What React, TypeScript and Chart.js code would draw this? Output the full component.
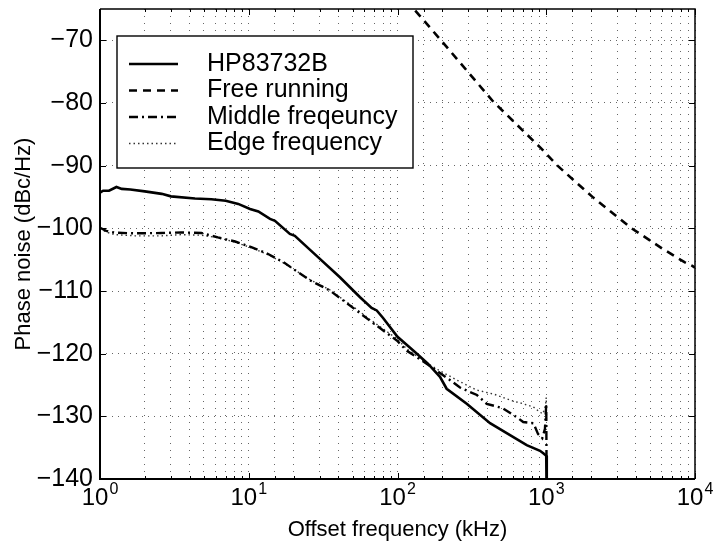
import { useEffect, useRef } from 'react';
import { Chart, registerables } from 'chart.js';

Chart.register(...registerables);

const FONT = "'Liberation Sans', Arial, Helvetica, sans-serif";

// ---- data ----
const seriesNames = ['HP83732B', 'Free running', 'Middle freqeuncy', 'Edge frequency'];

const hpFreq = [1, 1.05, 1.15, 1.29, 1.4, 1.6, 2.0, 2.6, 3.0, 4.35, 5.6, 7, 8.5, 10.2, 11.6, 13.9, 15, 18.9, 20.4, 28.6, 41, 56, 67, 72.5, 80, 100, 121, 135, 160, 193, 214, 292, 419, 571, 739, 908, 955, 1000, 1008];
const hpLevel = [-94.3, -94.0, -94.0, -93.4, -93.7, -93.8, -94.1, -94.5, -94.9, -95.25, -95.35, -95.6, -96.1, -96.9, -97.3, -98.5, -98.8, -100.9, -101.2, -104.4, -107.8, -111.0, -112.7, -113.1, -114.3, -117.3, -119.0, -120.0, -121.6, -123.7, -125.6, -128.0, -131.1, -133.0, -134.6, -135.5, -135.9, -136.3, -145];

const freeFreq = [100, 131, 193, 441, 920, 1190, 2071, 3750, 6000, 8500, 9600, 10000];
const freeLevel = [-61.8, -65.2, -69.8, -79.8, -87.2, -90.0, -95.1, -100.0, -103.2, -105.4, -106.0, -106.3];

const midFreq = [1, 1.1, 1.26, 1.72, 2.6, 3.5, 4.8, 6.2, 8.1, 10.4, 13.5, 17.1, 25.8, 35, 53, 65, 99, 115, 157, 225, 263, 342, 398, 510, 630, 700, 820, 880, 940, 980, 1000, 1004];
const midLevel = [-99.9, -100.4, -100.7, -100.8, -100.75, -100.65, -100.75, -101.45, -102.1, -103.0, -104.1, -105.4, -108.3, -109.9, -113.1, -114.7, -117.9, -119.5, -121.6, -124.2, -125.4, -126.6, -128.0, -128.7, -130.1, -130.9, -131.1, -132.8, -133.5, -132.0, -128.0, -137.0];

const edgeFreq = [1, 1.1, 1.26, 1.72, 2.6, 3.5, 4.8, 6.2, 8.1, 10.4, 13.5, 17.1, 25.8, 35, 53, 65, 99, 115, 157, 185, 250, 340, 450, 570, 700, 820, 900, 950, 990, 1000, 1003];
const edgeLevel = [-100.0, -100.6, -101.0, -101.2, -101.2, -101.0, -101.1, -101.5, -102.2, -103.1, -104.2, -105.5, -108.2, -109.8, -112.9, -114.5, -117.6, -119.2, -121.5, -122.5, -124.2, -125.8, -126.5, -127.4, -128.0, -128.5, -129.3, -129.6, -128.2, -127.0, -130.5];

const yTicks = [-140, -130, -120, -110, -100, -90, -80, -70];
const xDecades = [1, 10, 100, 1000, 10000];
const xExponents = ['0', '1', '2', '3', '4'];
const xTitle = 'Offset frequency (kHz)';
const yTitle = 'Phase noise (dBc/Hz)';

const dashes: number[][] = [[], [8, 6], [9, 4, 2, 4], [1.5, 3]];
const widths = [2.6, 2.6, 2.4, 1.4];
const colors = ['#000', '#000', '#000', '#333'];

const toPoints = (xs: number[], ys: number[]) => xs.map((x, i) => ({ x, y: ys[i] }));

const framePlugin = {
  id: 'matlabFrame',
  afterDraw(chart: any) {
    const { ctx, chartArea: a, scales } = chart;
    const xs = scales.x;
    const ys = scales.y;
    ctx.save();
    ctx.setLineDash([]);
    ctx.strokeStyle = '#000';
    ctx.lineWidth = 1;
    // inward tick marks
    ctx.beginPath();
    for (const v of yTicks) {
      const py = Math.round(ys.getPixelForValue(v)) + 0.5;
      ctx.moveTo(a.left, py); ctx.lineTo(a.left + 6, py);
      ctx.moveTo(a.right, py); ctx.lineTo(a.right - 6, py);
    }
    for (const t of xs.ticks) {
      const v = t.value;
      const lg = Math.log10(v);
      const major = Math.abs(lg - Math.round(lg)) < 1e-9;
      const len = major ? 6 : 3;
      const px = Math.round(xs.getPixelForValue(v)) + 0.5;
      ctx.moveTo(px, a.bottom); ctx.lineTo(px, a.bottom - len);
      ctx.moveTo(px, a.top); ctx.lineTo(px, a.top + len);
    }
    ctx.stroke();
    // axes box
    ctx.lineWidth = 2;
    ctx.beginPath();
    ctx.moveTo(a.left, a.top); ctx.lineTo(a.left, a.bottom); ctx.lineTo(a.right, a.bottom);
    ctx.stroke();
    ctx.lineWidth = 1.5;
    ctx.beginPath();
    ctx.moveTo(a.left, a.top); ctx.lineTo(a.right, a.top); ctx.lineTo(a.right, a.bottom);
    ctx.stroke();

    // x tick labels 10^n
    ctx.fillStyle = '#000';
    ctx.textAlign = 'left';
    ctx.textBaseline = 'alphabetic';
    xDecades.forEach((d, i) => {
      const px = xs.getPixelForValue(d);
      ctx.font = `24px ${FONT}`;
      const w1 = ctx.measureText('10').width;
      ctx.font = `16px ${FONT}`;
      const w2 = ctx.measureText(xExponents[i]).width;
      const start = px - (w1 + w2 + 1) / 2;
      ctx.font = `24px ${FONT}`;
      ctx.fillText('10', start, a.bottom + 26);
      ctx.font = `16px ${FONT}`;
      ctx.fillText(xExponents[i], start + w1 + 1, a.bottom + 15);
    });

    // legend
    const lx = a.left + 17;
    const ly = a.top + 27;
    const lw = 296;
    const lh = 132;
    ctx.fillStyle = '#fff';
    ctx.fillRect(lx, ly, lw, lh);
    ctx.strokeStyle = '#000';
    ctx.lineWidth = 1.4;
    ctx.strokeRect(lx, ly, lw, lh);
    ctx.font = `25px ${FONT}`;
    ctx.textBaseline = 'middle';
    seriesNames.forEach((name, i) => {
      const cy = ly + 28 + i * 26.5;
      ctx.setLineDash(dashes[i]);
      ctx.lineWidth = widths[i];
      ctx.strokeStyle = colors[i];
      ctx.beginPath();
      ctx.moveTo(lx + 12, cy);
      ctx.lineTo(lx + 61, cy);
      ctx.stroke();
      ctx.setLineDash([]);
      ctx.fillStyle = '#000';
      ctx.fillText(name, lx + 90, cy);
    });
    ctx.restore();
  },
};

export default function App() {
  const ref = useRef<HTMLCanvasElement | null>(null);

  useEffect(() => {
    if (!ref.current) return;
    const gridColor = 'rgba(0,0,0,0.6)';
    const chart = new Chart(ref.current, {
      type: 'line',
      data: {
        datasets: [
          { label: seriesNames[0], data: toPoints(hpFreq, hpLevel) },
          { label: seriesNames[1], data: toPoints(freeFreq, freeLevel) },
          { label: seriesNames[2], data: toPoints(midFreq, midLevel) },
          { label: seriesNames[3], data: toPoints(edgeFreq, edgeLevel) },
        ].map((d, i) => ({
          ...d,
          borderColor: colors[i],
          backgroundColor: colors[i],
          borderWidth: widths[i],
          borderDash: dashes[i],
          pointRadius: 0,
          tension: 0,
          fill: false,
        })),
      },
      options: {
        animation: false,
        responsive: false,
        events: [],
        layout: { padding: { left: 0, right: 22, top: 9, bottom: 0 } },
        plugins: { legend: { display: false }, tooltip: { enabled: false } },
        scales: {
          x: {
            type: 'logarithmic',
            min: 1,
            max: 10000,
            border: { display: false, dash: [1, 6] },
            grid: { color: gridColor, lineWidth: 1, drawTicks: false },
            ticks: { display: false, autoSkip: false },
            title: {
              display: true,
              text: xTitle,
              color: '#000',
              font: { family: FONT, size: 22, lineHeight: 1 },
              padding: { top: 0, bottom: 0 },
            },
            afterFit(s: any) {
              s.height = 62;
              s.paddingLeft = 0;
              s.paddingRight = 0;
            },
          },
          y: {
            type: 'linear',
            min: -140,
            max: -65,
            border: { display: false, dash: [1, 5] },
            grid: { color: gridColor, lineWidth: 1, drawTicks: false },
            afterBuildTicks(s: any) {
              s.ticks = yTicks.map((v) => ({ value: v }));
            },
            ticks: {
              padding: 7,
              color: '#000',
              font: { family: FONT, size: 25 },
              callback: (v: any) => '\u2212' + Math.abs(Number(v)),
            },
            title: {
              display: true,
              text: yTitle,
              color: '#000',
              font: { family: FONT, size: 22, lineHeight: 1 },
              padding: { top: 13, bottom: 0 },
            },
            afterFit(s: any) {
              s.width = 100;
              s.paddingTop = 0;
              s.paddingBottom = 0;
            },
          },
        },
      } as any,
      plugins: [framePlugin],
    });
    return () => chart.destroy();
  }, []);

  return (
    <div style={{ position: 'fixed', left: 0, top: 0, width: 717, height: 541, background: '#fff' }}>
      <canvas ref={ref} width={717} height={541} />
    </div>
  );
}
